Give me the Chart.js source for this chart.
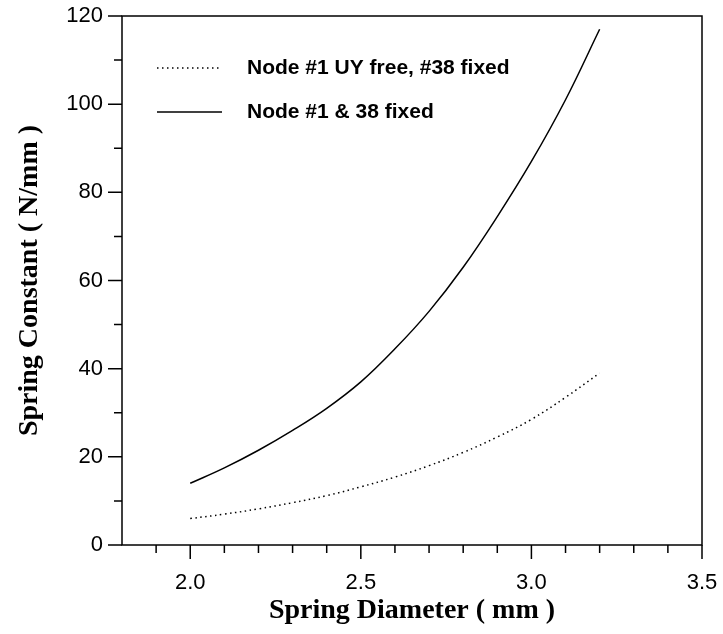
<!DOCTYPE html>
<html>
<head>
<meta charset="utf-8">
<script src="https://cdn.jsdelivr.net/npm/chart.js@4"></script>
<style>
  html, body { margin: 0; padding: 0; background: #fff; }
  #wrap { width: 723px; height: 634px; }
</style>
</head>
<body>
<div id="wrap"><canvas id="springChart" width="723" height="634"></canvas></div>
<script>
// values
const diameters = [2.0, 2.1, 2.2, 2.3, 2.4, 2.5, 2.6, 2.7, 2.8, 2.9, 3.0, 3.1, 3.2];
const kUyFree = [6, 7, 8.2, 9.6, 11.2, 13.2, 15.4, 18, 21, 24.5, 28.5, 33.5, 39];
const kBothFixed = [14, 17.5, 21.5, 26, 31, 37, 44.5, 53, 63, 74.5, 87, 101, 117];

const xTicks = [2.0, 2.5, 3.0, 3.5];
const xMinor = [1.9, 2.1, 2.2, 2.3, 2.4, 2.6, 2.7, 2.8, 2.9, 3.1, 3.2, 3.3, 3.4];
const yTicks = [0, 20, 40, 60, 80, 100, 120];
const yMinor = [10, 30, 50, 70, 90, 110];

const seriesNames = ['Node #1 UY free, #38 fixed', 'Node #1 & 38 fixed'];

const toPoints = ys => diameters.map((d, i) => ({ x: d, y: ys[i] }));

// frame, tick marks and the in-plot legend
const framePlugin = {
    id: 'frame',
    afterDraw(chart) {
        const ctx = chart.ctx;
        const a = chart.chartArea;
        const xs = chart.scales.x, ys = chart.scales.y;
        ctx.save();
        ctx.strokeStyle = '#000';
        ctx.lineWidth = 1.5;
        ctx.strokeRect(a.left, a.top, a.right - a.left, a.bottom - a.top);

        ctx.beginPath();
        xTicks.forEach(v => { const p = xs.getPixelForValue(v); ctx.moveTo(p, a.bottom); ctx.lineTo(p, a.bottom + 14); });
        xMinor.forEach(v => { const p = xs.getPixelForValue(v); ctx.moveTo(p, a.bottom); ctx.lineTo(p, a.bottom + 8); });
        yTicks.forEach(v => { const p = ys.getPixelForValue(v); ctx.moveTo(a.left, p); ctx.lineTo(a.left - 14, p); });
        yMinor.forEach(v => { const p = ys.getPixelForValue(v); ctx.moveTo(a.left, p); ctx.lineTo(a.left - 8, p); });
        ctx.stroke();

        // legend
        const rows = [68, 112];
        ctx.font = 'bold 21px "Liberation Sans", Arial, sans-serif';
        ctx.fillStyle = '#000';
        ctx.textBaseline = 'middle';
        chart.data.datasets.forEach((ds, i) => {
            ctx.beginPath();
            ctx.setLineDash(ds.borderDash || []);
            ctx.lineWidth = ds.borderWidth;
            ctx.moveTo(157, rows[i]);
            ctx.lineTo(222, rows[i]);
            ctx.stroke();
            ctx.setLineDash([]);
            ctx.fillText(ds.label, 247, rows[i]);
        });
        ctx.restore();
    }
};

const tickFont = { family: '"Liberation Sans", Arial, sans-serif', size: 22 };
const titleFont = { family: '"Liberation Serif", "Times New Roman", serif', size: 28, weight: 'bold' };

new Chart(document.getElementById('springChart'), {
    type: 'line',
    data: {
        datasets: [{
            label: seriesNames[0],
            data: toPoints(kUyFree),
            borderColor: '#000',
            borderWidth: 1.5,
            borderDash: [1.5, 3.5],
            pointRadius: 0,
            tension: 0.4,
            fill: false
        }, {
            label: seriesNames[1],
            data: toPoints(kBothFixed),
            borderColor: '#000',
            borderWidth: 1.5,
            pointRadius: 0,
            tension: 0.4,
            fill: false
        }]
    },
    options: {
        responsive: false,
        animation: false,
        layout: { padding: { left: 0, top: 16, right: 21, bottom: 0 } },
        plugins: {
            legend: { display: false },
            tooltip: { enabled: false }
        },
        scales: {
            x: {
                type: 'linear',
                min: 1.8,
                max: 3.5,
                afterBuildTicks: s => { s.ticks = xTicks.map(v => ({ value: v })); },
                afterFit: s => { s.height = 89; s.paddingLeft = 0; s.paddingRight = 0; },
                grid: { display: false, drawTicks: false },
                border: { display: false },
                ticks: {
                    color: '#000',
                    font: tickFont,
                    padding: 25,
                    maxRotation: 0,
                    autoSkip: false,
                    callback: v => v.toFixed(1)
                },
                title: {
                    display: true,
                    text: 'Spring Diameter ( mm )',
                    color: '#000',
                    font: titleFont,
                    padding: { top: 0, bottom: 6 }
                }
            },
            y: {
                min: 0,
                max: 120,
                afterBuildTicks: s => { s.ticks = yTicks.map(v => ({ value: v })); },
                afterFit: s => { s.width = 122; s.paddingTop = 0; s.paddingBottom = 0; },
                grid: { display: false, drawTicks: false },
                border: { display: false },
                ticks: {
                    color: '#000',
                    font: tickFont,
                    padding: 19
                },
                title: {
                    display: true,
                    text: 'Spring Constant ( N/mm )',
                    color: '#000',
                    font: titleFont,
                    padding: { top: 13, bottom: 0 }
                }
            }
        }
    },
    plugins: [framePlugin]
});
</script>
</body>
</html>
